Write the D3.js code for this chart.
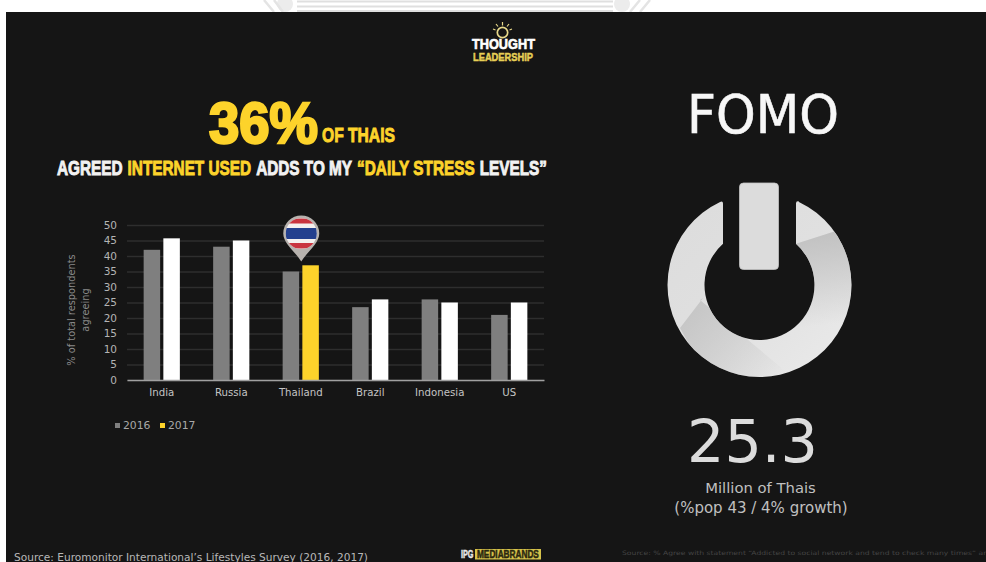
<!DOCTYPE html>
<html>
<head>
<meta charset="utf-8">
<script src="https://cdn.jsdelivr.net/npm/d3@7"></script>
<style>
  html, body { margin: 0; padding: 0; background: #fff; overflow: hidden; }
  svg { display: block; }
</style>
</head>
<body>
<svg id="slide" width="986" height="562"></svg>
<script>
// Survey results: share of respondents agreeing, by country and year
const countries = ["India", "Russia", "Thailand", "Brazil", "Indonesia", "US"];
const years = ["2016", "2017"];
const values2016 = [42, 43, 35, 23.5, 26, 21];
const values2017 = [45.7, 45, 37, 26, 25, 25];
const yTicks = [0, 5, 10, 15, 20, 25, 30, 35, 40, 45, 50];

const BODY_FONT = "'DejaVu Sans', sans-serif";
const HEAD_FONT = "'Liberation Sans Narrow', 'Liberation Sans', sans-serif";
const YELLOW = "#fdd32b";
const GREY_BAR = "#7f7f7f";
const WHITE_HEAD = "#f2f2f2";

const svg = d3.select("#slide");
const defs = svg.append("defs");

// Page backdrop: white sheet with the dark slide on top
svg.append("rect").attr("width", 986).attr("height", 562).attr("fill", "#ffffff");

// Faint letterhead rules and their end ornaments above the slide
const crest = svg.append("g");
[1.5, 6.5, 11].forEach(yy =>
  crest.append("line").attr("x1", 297).attr("x2", 613).attr("y1", yy).attr("y2", yy)
    .attr("stroke", "#dfdfdf").attr("stroke-width", 2));
crest.append("circle").attr("cx", 285).attr("cy", 4).attr("r", 8).attr("fill", "#ececec");
crest.append("circle").attr("cx", 622).attr("cy", 4).attr("r", 8).attr("fill", "#ececec");
crest.append("path").attr("fill", "none").attr("stroke", "#e4e4e4").attr("stroke-width", 2.5)
  .attr("d", "M264,0L274,12M274,0L283,12M630,12L640,0M640,12L650,0");

svg.append("rect").attr("x", 6).attr("y", 12).attr("width", 980).attr("height", 550).attr("fill", "#151515");

// Lays out coloured word runs side by side, scaled sideways to a set overall width
function headline(x, y, width, size, runs, gap) {
  const nodes = runs.map(([txt, col]) =>
    svg.append("text").text(txt)
      .attr("font-family", HEAD_FONT).attr("font-weight", 700).attr("font-size", size)
      .attr("fill", col).attr("stroke", col).attr("stroke-width", size * 0.045));
  const natural = nodes.map(n => n.node().getComputedTextLength());
  const k = (width - gap * (runs.length - 1)) / d3.sum(natural);
  let cursor = x;
  nodes.forEach((n, i) => {
    n.attr("transform", `translate(${cursor},${y}) scale(${k},1)`);
    cursor += natural[i] * k + gap;
  });
}

headline(209, 142.5, 109, 58, [["36%", YELLOW]], 0);
headline(322, 141.5, 73, 20, [["OF THAIS", YELLOW]], 0);
headline(57, 175, 490, 20.5, [
  ["AGREED", WHITE_HEAD], ["INTERNET USED", YELLOW], ["ADDS TO MY", WHITE_HEAD],
  ["“DAILY STRESS", YELLOW], ["LEVELS”", WHITE_HEAD]
], 5);

// Logo with a light bulb rising out of the wordmark
const logo = svg.append("g");
logo.append("circle").attr("cx", 502.5).attr("cy", 32.5).attr("r", 5.2)
  .attr("fill", "none").attr("stroke", "#e8d98a").attr("stroke-width", 1.7);
logo.append("path").attr("stroke", "#e8d98a").attr("stroke-width", 1.2).attr("fill", "none")
  .attr("d", "M502.5,22V25.5M496,24L498,26.5M509,24L507,26.5M493,29L495.5,30M512,29L509.5,30");
headline(472, 48.5, 63, 15.5, [["THOUGHT", "#ffffff"]], 0);
headline(473, 60.5, 60, 10.8, [["LEADERSHIP", "#e6cf56"]], 0);

// Bar chart
const margin = { left: 127, right: 544, top: 225, bottom: 380 };
const x = d3.scaleBand().domain(countries).range([margin.left, margin.right]);
const y = d3.scaleLinear().domain([0, 50]).range([margin.bottom, margin.top]);
const barWidth = 16.5, barGap = 3.2;
const xYear = d3.scaleOrdinal().domain(years).range([-barWidth - barGap / 2, barGap / 2]);

const chart = svg.append("g");

const yAxis = chart.append("g")
  .attr("transform", `translate(${margin.left},0)`)
  .call(d3.axisLeft(y).tickValues(yTicks).tickSize(0).tickPadding(10).tickSizeInner(-(margin.right - margin.left)));
yAxis.select(".domain").remove();
yAxis.selectAll("line").attr("stroke", "#2e2e2e").attr("stroke-width", 1.3);
yAxis.selectAll("text")
  .attr("fill", "#b4b4b4").attr("font-family", BODY_FONT).attr("font-size", 10.5);

const rows = countries.map((c, i) => ({ country: c, v2016: values2016[i], v2017: values2017[i] }));
const groups = chart.selectAll("g.group").data(rows).join("g").attr("class", "group")
  .attr("transform", d => `translate(${x(d.country) + x.bandwidth() / 2},0)`);

groups.append("rect")
  .attr("x", xYear("2016")).attr("width", barWidth)
  .attr("y", d => y(d.v2016)).attr("height", d => y(0) - y(d.v2016))
  .attr("fill", GREY_BAR);
groups.append("rect")
  .attr("x", xYear("2017")).attr("width", barWidth)
  .attr("y", d => y(d.v2017)).attr("height", d => y(0) - y(d.v2017))
  .attr("fill", d => d.country === "Thailand" ? YELLOW : "#ffffff");

const xAxis = chart.append("g")
  .attr("transform", `translate(0,${margin.bottom})`)
  .call(d3.axisBottom(x).tickSize(0).tickPadding(9));
xAxis.select(".domain").attr("stroke", "#a0a0a0").attr("stroke-width", 1.6);
xAxis.selectAll("text")
  .attr("fill", "#c4c4c4").attr("font-family", BODY_FONT).attr("font-size", 10.2);

// Rotated value-axis caption on two lines
const yTitle = chart.append("text")
  .attr("transform", "translate(75,310) rotate(-90)")
  .attr("text-anchor", "middle").attr("fill", "#8a8a8a")
  .attr("font-family", BODY_FONT).attr("font-size", 9.8);
yTitle.append("tspan").attr("x", 0).attr("y", 0).text("% of total respondents");
yTitle.append("tspan").attr("x", 0).attr("y", 14).text("agreeing");

// Legend
const legendItems = [["2016", GREY_BAR, 115, 123], ["2017", YELLOW, 160, 168]];
legendItems.forEach(([label, col, sx, tx]) => {
  svg.append("rect").attr("x", sx).attr("y", 423).attr("width", 5).attr("height", 5).attr("fill", col);
  svg.append("text").attr("x", tx).attr("y", 429).text(label)
    .attr("fill", "#a8a8a8").attr("font-family", BODY_FONT).attr("font-size", 10.8);
});

// Map pin carrying the Thai flag, standing on the Thailand bars
const pinX = x("Thailand") + x.bandwidth() / 2 + 0.5;
const pinY = 233.5, pinR = 18;
const pin = svg.append("g").attr("transform", `translate(${pinX},${pinY})`);
pin.append("path").attr("fill", "#b7b2ae")
  .attr("d", `M${-pinR},0A${pinR},${pinR} 0 1 1 ${pinR},0C${pinR},10 6,18 0,28C-6,18 ${-pinR},10 ${-pinR},0Z`);
defs.append("clipPath").attr("id", "flag-clip").append("circle").attr("r", 15.5);
const flag = pin.append("g").attr("clip-path", "url(#flag-clip)");
[[-16, 32, "#f4f0ee"], [-15, 5, "#c9343f"], [-5.5, 11, "#24408e"], [9.5, 5.5, "#c9343f"]].forEach(([top, h, col]) =>
  flag.append("rect").attr("x", -16).attr("width", 32).attr("y", top).attr("height", h).attr("fill", col));

// Power symbol on the right-hand panel
const cx = 759.5, cy = 285, rOut = 92, rIn = 55, halfGap = 36.5;
const aOut = Math.asin(halfGap / rOut), aIn = Math.asin(halfGap / rIn);
const topOut = cy - Math.sqrt(rOut * rOut - halfGap * halfGap);
const topIn = cy - Math.sqrt(rIn * rIn - halfGap * halfGap);
const up = -Math.PI / 2;
const ring = d3.path();
ring.moveTo(cx + halfGap, topIn);
ring.lineTo(cx + halfGap, topOut + 3);
ring.quadraticCurveTo(cx + halfGap, topOut, cx + halfGap + 3, topOut + 1);
ring.arc(cx, cy, rOut, up + aOut + 0.035, up - aOut - 0.035 + 2 * Math.PI);
ring.quadraticCurveTo(cx - halfGap, topOut, cx - halfGap, topOut + 3);
ring.lineTo(cx - halfGap, topIn);
ring.arc(cx, cy, rIn, up - aIn, up + aIn, true);
ring.closePath();

const ringFill = defs.append("linearGradient").attr("id", "ring-fill")
  .attr("x1", 0).attr("y1", 0).attr("x2", 1).attr("y2", 1);
ringFill.append("stop").attr("offset", 0).attr("stop-color", "#dcdcdc");
ringFill.append("stop").attr("offset", 0.5).attr("stop-color", "#e0e0e0");
ringFill.append("stop").attr("offset", 1).attr("stop-color", "#ebebeb");

// Sheen bands fade out so they leave no edge where they end
function fadeGradient(id, x1, y1, x2, y2, colour) {
  const g = defs.append("linearGradient").attr("id", id)
    .attr("gradientUnits", "userSpaceOnUse")
    .attr("x1", x1).attr("y1", y1).attr("x2", x2).attr("y2", y2);
  g.append("stop").attr("offset", 0).attr("stop-color", colour).attr("stop-opacity", 1);
  g.append("stop").attr("offset", 1).attr("stop-color", colour).attr("stop-opacity", 0);
}
fadeGradient("shade-right", 815, 235, 825, 325, "#c2c2c2");
fadeGradient("shade-left", 690, 310, 775, 385, "#c6c6c6");

defs.append("clipPath").attr("id", "ring-clip").append("path").attr("d", ring.toString());
const power = svg.append("g");
power.append("path").attr("d", ring.toString()).attr("fill", "url(#ring-fill)");
const sheen = power.append("g").attr("clip-path", "url(#ring-clip)");
sheen.append("path").attr("fill", "url(#shade-right)")
  .attr("d", "M795,244L842,229L870,340L780,340L780,260Z");
sheen.append("path").attr("fill", "url(#shade-left)")
  .attr("d", "M703,298L680,328L720,400L820,400L700,300Z");
power.append("rect").attr("x", 739.5).attr("y", 183).attr("width", 39).attr("height", 86.5).attr("rx", 4)
  .attr("fill", "#dcdcdc").attr("stroke", "#c4c4c4").attr("stroke-width", 0.8);

// Right-hand panel wording
svg.append("text").attr("x", 687).attr("y", 132.5).text("FOMO")
  .attr("font-family", BODY_FONT).attr("font-size", 53).attr("fill", "#f7f7f7")
  .attr("stroke", "#f7f7f7").attr("stroke-width", 0.6)
  .attr("textLength", 152).attr("lengthAdjust", "spacingAndGlyphs");
svg.append("text").attr("x", 687).attr("y", 462).text("25.3")
  .attr("font-family", BODY_FONT).attr("font-size", 59).attr("fill", "#dcdcdc")
  .attr("textLength", 131).attr("lengthAdjust", "spacingAndGlyphs");
svg.append("text").attr("x", 760.5).attr("y", 492.5).attr("text-anchor", "middle").text("Million of Thais")
  .attr("font-family", BODY_FONT).attr("font-size", 14.8).attr("fill", "#c0c0c0");
svg.append("text").attr("x", 761).attr("y", 513).attr("text-anchor", "middle").text("(%pop 43 / 4% growth)")
  .attr("font-family", BODY_FONT).attr("font-size", 15).attr("fill", "#c0c0c0");

// Footer: sources and agency mark
svg.append("text").attr("x", 14).attr("y", 561).text("Source: Euromonitor International’s Lifestyles Survey (2016, 2017)")
  .attr("font-family", BODY_FONT).attr("font-size", 10).attr("fill", "#b8b8b8")
  .attr("textLength", 354).attr("lengthAdjust", "spacingAndGlyphs");
svg.append("text").attr("x", 622).attr("y", 555).text("Source: % Agree with statement “Addicted to social network and tend to check many times” an")
  .attr("font-family", BODY_FONT).attr("font-size", 6).attr("fill", "#444444")
  .attr("textLength", 366).attr("lengthAdjust", "spacingAndGlyphs");

headline(461, 558, 12.5, 10.5, [["IPG", "#e8e8e8"]], 0);
svg.append("rect").attr("x", 475).attr("y", 549).attr("width", 66).attr("height", 10.5).attr("fill", "#d6c24a");
headline(477, 558, 62, 10, [["MEDIABRANDS", "#2a2710"]], 0);
</script>
</body>
</html>
